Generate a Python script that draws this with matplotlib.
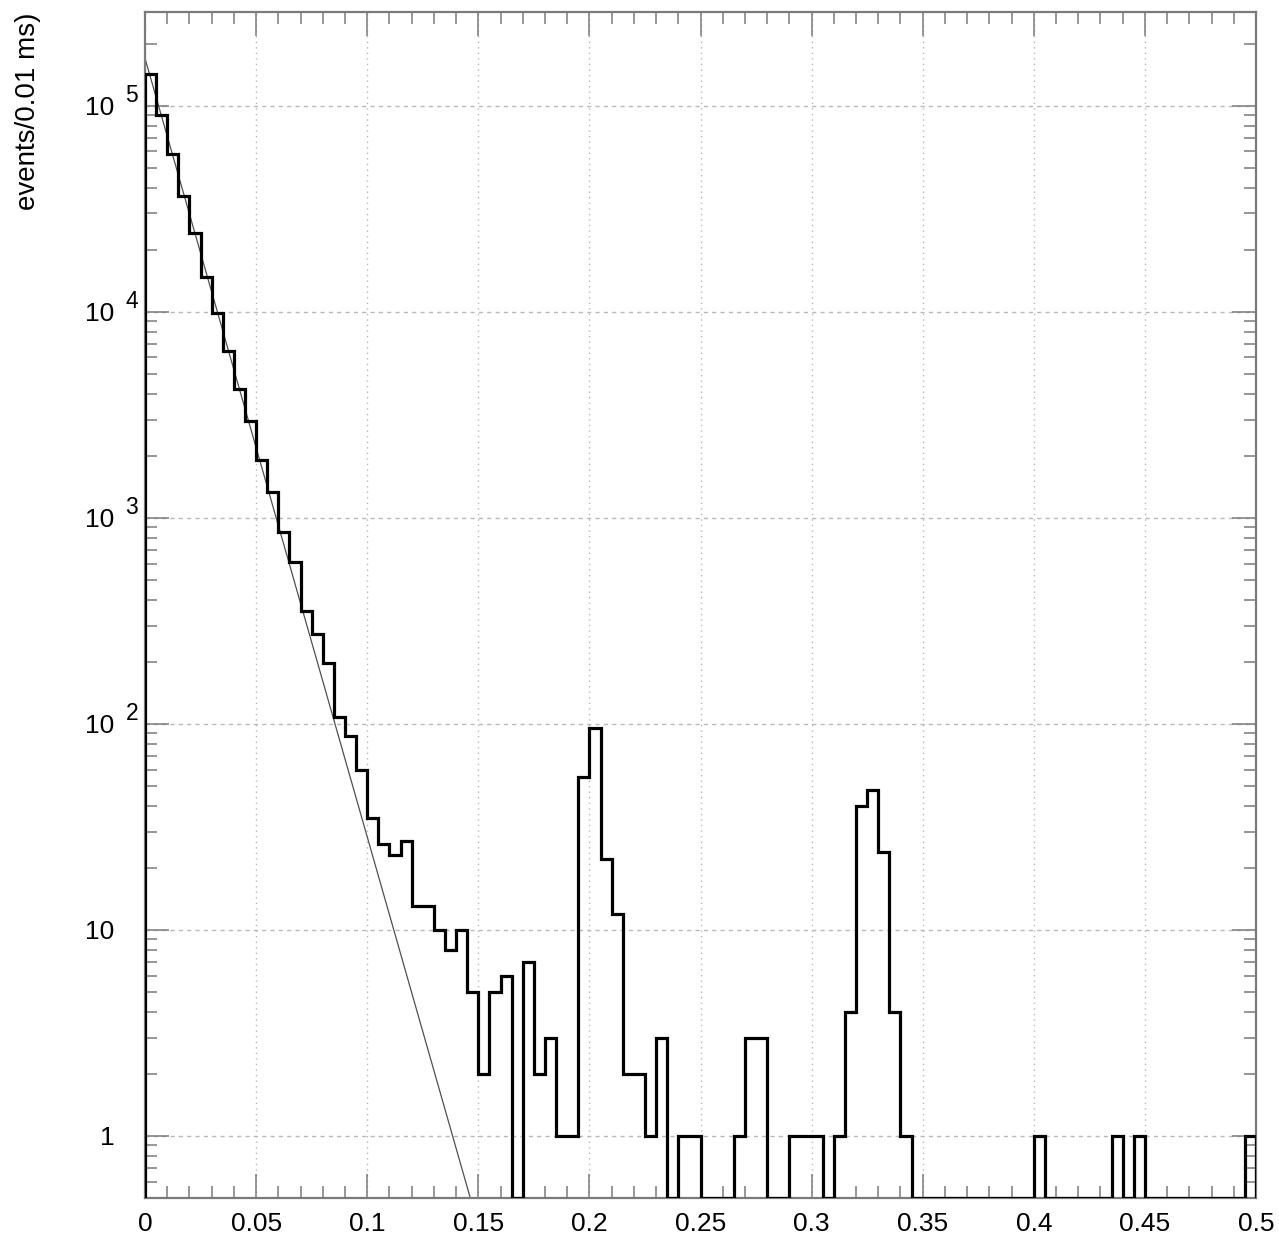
"""Decay-time histogram (log scale) with the exponential fit overlaid.

100 bins of 0.005 from 0 to 0.5; empty bins are drawn on the lower frame edge.
"""

import matplotlib

matplotlib.use("Agg")
import matplotlib.pyplot as plt
import numpy as np
from matplotlib.ticker import FixedFormatter, FixedLocator, LogLocator, MultipleLocator, NullFormatter

BIN_LO, BIN_HI, BIN_W = 0.0, 0.5, 0.005

# events per bin (bin i starts at i*0.005)
counts = [
    143000, 90000, 58000, 36300, 24000, 14800, 9900, 6470, 4200, 2960,
    1900, 1330, 850, 607, 353, 272, 197, 108, 87, 60,
    35, 26, 23, 27, 13, 13, 10, 8, 10, 5,
    2, 5, 6, 0, 7, 2, 3, 1, 1, 55,
    95, 22, 12, 2, 2, 1, 3, 0, 1, 1,
    0, 0, 0, 1, 3, 3, 0, 0, 1, 1,
    1, 0, 1, 4, 40, 48, 24, 4, 1, 0,
    0, 0, 0, 0, 0, 0, 0, 0, 0, 0,
    1, 0, 0, 0, 0, 0, 0, 1, 0, 1,
    0, 0, 0, 0, 0, 0, 0, 0, 0, 1,
]

# exponential fit: straight on the log axis, end points
fit_x = [0.0, 0.1464]
fit_y = [1.7e5, 0.5]

YMIN, YMAX = 0.5, 2.85e5
x_major = [0.0, 0.05, 0.1, 0.15, 0.2, 0.25, 0.3, 0.35, 0.4, 0.45, 0.5]
x_labels = ["0", "0.05", "0.1", "0.15", "0.2", "0.25", "0.3", "0.35", "0.4", "0.45", "0.5"]
y_major = [1, 10, 1e2, 1e3, 1e4, 1e5]
y_labels = ["1", "10", "10", "10", "10", "10"]
y_exponents = {1e2: "2", 1e3: "3", 1e4: "4", 1e5: "5"}
YLABEL = "events/0.01 ms)"

FRAME_C, GRID_C = "#7a7a7a", "#b8b8b8"
FONT = ["Liberation Sans", "DejaVu Sans"]


def make_figure(out):
    plt.rcParams["font.family"] = FONT
    fig = plt.figure(figsize=(12.79, 12.40), dpi=100)
    ax = fig.add_axes([145 / 1279, 1 - 1198 / 1240, 1111 / 1279, 1186 / 1240])

    edges = np.arange(len(counts) + 1) * BIN_W + BIN_LO
    vals = np.asarray(counts, dtype=float)
    vals = np.where(vals > 0, vals, YMIN)        # empty bins sit on the frame
    ax.stairs(vals, edges, baseline=YMIN, color="black", lw=2.3, zorder=3)
    ax.plot(fit_x, fit_y, color="#505050", lw=0.9, zorder=2)

    ax.set_yscale("log")
    ax.set_xlim(BIN_LO, BIN_HI)
    ax.set_ylim(YMIN, YMAX)

    ax.xaxis.set_major_locator(FixedLocator(x_major))
    ax.xaxis.set_major_formatter(FixedFormatter(x_labels))
    ax.xaxis.set_minor_locator(MultipleLocator(0.01))
    ax.yaxis.set_major_locator(FixedLocator(y_major))
    ax.yaxis.set_major_formatter(FixedFormatter(y_labels))
    ax.yaxis.set_minor_locator(LogLocator(base=10, subs=np.arange(2, 10)))
    ax.yaxis.set_minor_formatter(NullFormatter())

    ax.tick_params(which="both", direction="in", top=True, right=True,
                   color=FRAME_C, width=1.1)
    ax.tick_params(which="major", length=17)
    ax.tick_params(which="minor", length=8.5)
    ax.tick_params(axis="x", which="major", pad=10, labelsize=19)
    ax.tick_params(axis="y", which="major", pad=22, labelsize=19)

    for val, exp in y_exponents.items():
        ax.annotate(exp, xy=(0, val), xycoords=("axes fraction", "data"),
                    xytext=(-9.5, 7.5), textcoords="offset points",
                    ha="center", va="center", fontsize=16.5)

    ax.xaxis.grid(True, which="major", color=GRID_C, lw=1.0, ls=(0, (1, 3)))
    ax.yaxis.grid(True, which="major", color=GRID_C, lw=1.0, ls=(0, (3, 3)))
    ax.set_axisbelow(True)
    for s in ax.spines.values():
        s.set_color(FRAME_C)
        s.set_linewidth(1.6)

    fig.text(28 / 1279, 1 - 13 / 1240, YLABEL, rotation=90, ha="center", va="top",
             fontsize=20)

    fig.savefig(out, dpi=100)
    plt.close(fig)


if __name__ == "__main__":
    make_figure("out.png")
